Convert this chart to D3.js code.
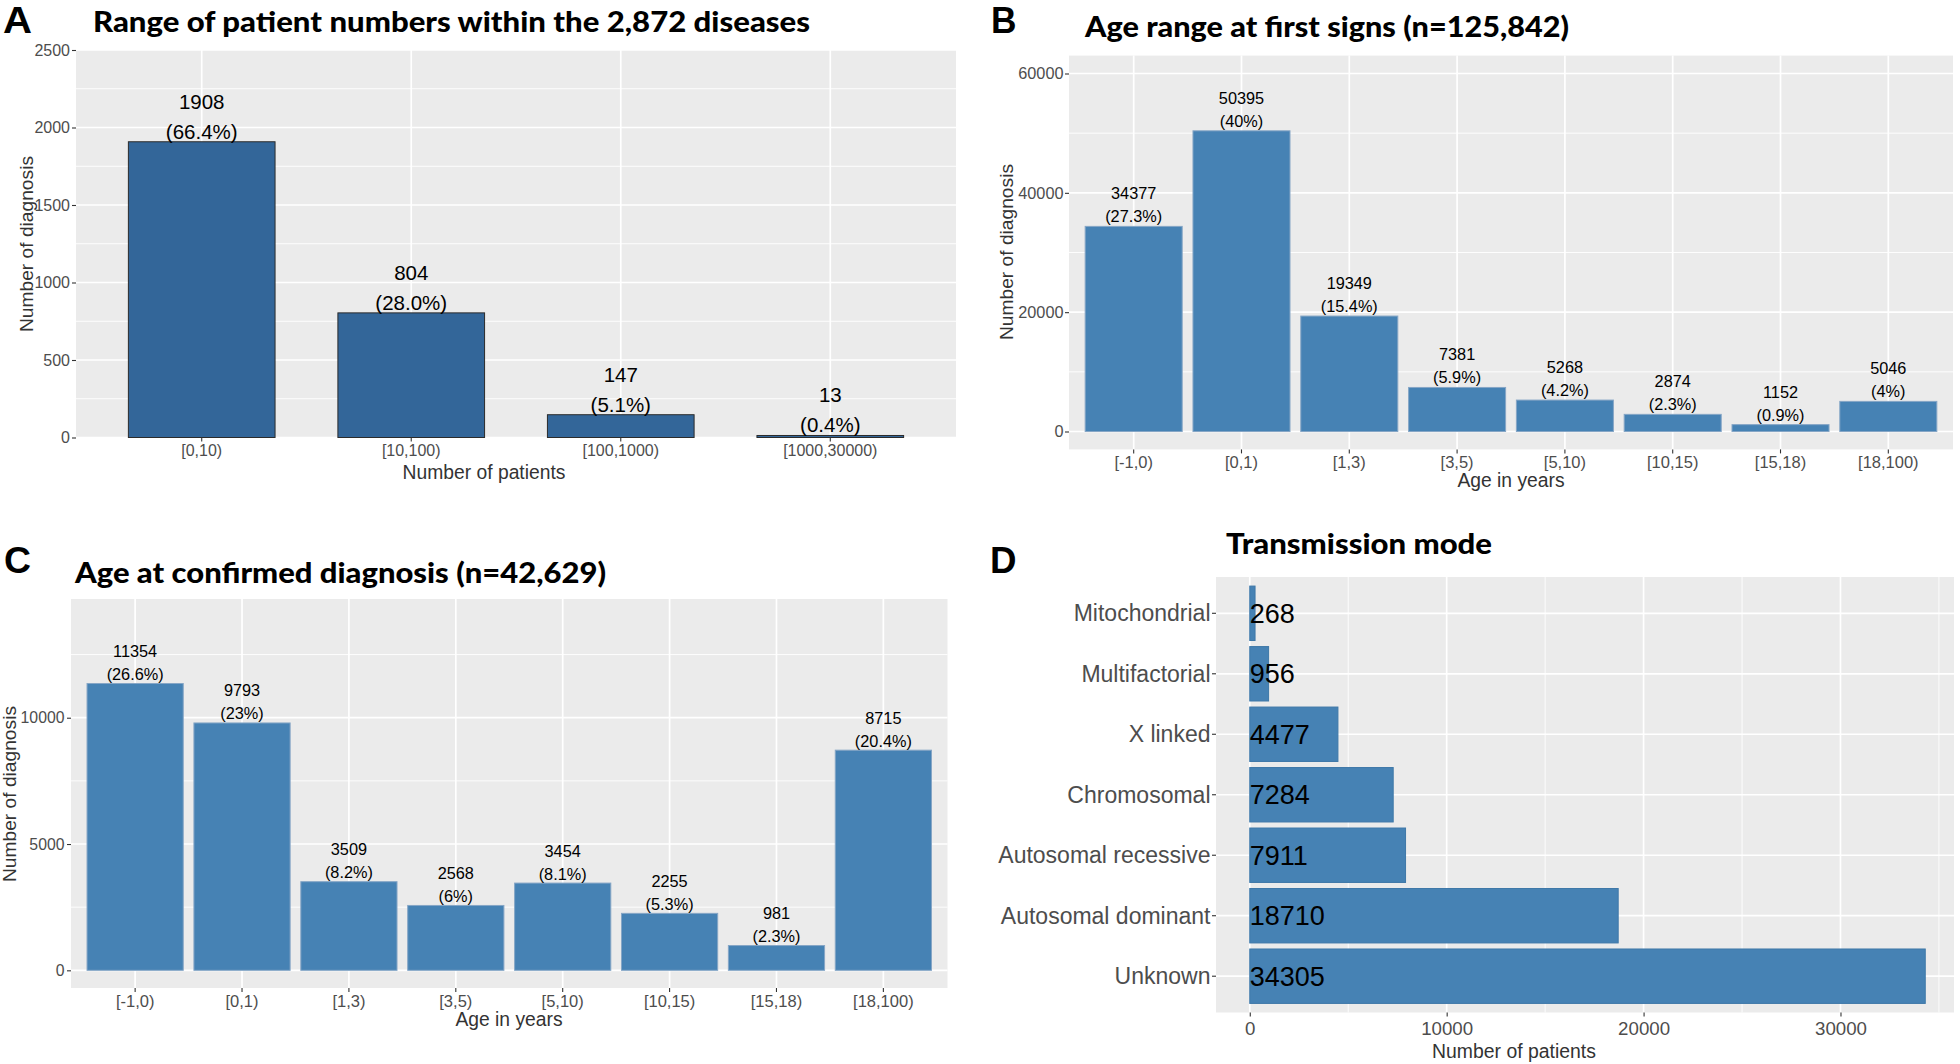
<!DOCTYPE html>
<html>
<head>
<meta charset="utf-8">
<script src="https://cdn.jsdelivr.net/npm/d3@7"></script>
<style>
  html, body { margin: 0; padding: 0; background: #ffffff; }
  svg { display: block; }
</style>
</head>
<body>
<script>
// ---------------- DATA ----------------
const panelA_categories = ["[0,10)", "[10,100)", "[100,1000)", "[1000,30000)"];
const panelA_values = [1908, 804, 147, 13];
const panelA_percents = ["66.4%", "28.0%", "5.1%", "0.4%"];
const panelA_yTicks = [0, 500, 1000, 1500, 2000, 2500];
const panelA_yMinor = [250, 750, 1250, 1750, 2250];

const ageCategories = ["[-1,0)", "[0,1)", "[1,3)", "[3,5)", "[5,10)", "[10,15)", "[15,18)", "[18,100)"];
const panelB_values = [34377, 50395, 19349, 7381, 5268, 2874, 1152, 5046];
const panelB_percents = ["27.3%", "40%", "15.4%", "5.9%", "4.2%", "2.3%", "0.9%", "4%"];
const panelB_yTicks = [0, 20000, 40000, 60000];
const panelB_yMinor = [10000, 30000, 50000];

const panelC_values = [11354, 9793, 3509, 2568, 3454, 2255, 981, 8715];
const panelC_percents = ["26.6%", "23%", "8.2%", "6%", "8.1%", "5.3%", "2.3%", "20.4%"];
const panelC_yTicks = [0, 5000, 10000];
const panelC_yMinor = [2500, 7500, 12500];

const panelD_categories = ["Mitochondrial", "Multifactorial", "X linked", "Chromosomal",
  "Autosomal recessive", "Autosomal dominant", "Unknown"];
const panelD_values = [268, 956, 4477, 7284, 7911, 18710, 34305];
const panelD_xTicks = [0, 10000, 20000, 30000];
const panelD_xMinor = [5000, 15000, 25000, 35000];

// ---------------- SETUP ----------------
const W = 1960, H = 1064;
const FONT = "'Liberation Sans', Arial, Helvetica, sans-serif";
const TITLE_FONT = "Lato, 'Open Sans', 'Liberation Sans', sans-serif";
const svg = d3.select("body").append("svg").attr("width", W).attr("height", H)
  .style("background", "#ffffff");

function styleAxis(ax, fontSize) {
  ax.attr("font-size", null).attr("font-family", null);
  ax.select(".domain").remove();
  ax.selectAll(".tick line").attr("stroke", "#333333").attr("stroke-width", 1.1);
  ax.selectAll(".tick text").attr("fill", "#4D4D4D")
    .style("font-family", FONT).style("font-size", fontSize + "px");
}

function panelLetter(txt, x, y, w) {
  svg.append("text").attr("x", x).attr("y", y).text(txt)
    .style("font-family", FONT).style("font-weight", "bold").style("font-size", "36px")
    .attr("fill", "#000").attr("textLength", w).attr("lengthAdjust", "spacingAndGlyphs");
}
function panelTitle(txt, x, y, w) {
  svg.append("text").attr("x", x).attr("y", y).text(txt)
    .style("font-family", TITLE_FONT).style("font-weight", "900").style("font-size", "28px")
    .attr("fill", "#000").attr("textLength", w).attr("lengthAdjust", "spacingAndGlyphs");
}

function drawVertical(o) {
  const g = svg.append("g");
  const x = d3.scaleBand().domain(o.categories).range([o.x0, o.x1])
    .paddingInner(o.pi).paddingOuter(o.po);
  const y = d3.scaleLinear().domain(o.yDomain).range([o.yBottom, o.yTop]);

  g.append("rect").attr("x", o.x0).attr("y", o.yTop)
    .attr("width", o.x1 - o.x0).attr("height", o.yBottom - o.yTop).attr("fill", "#EBEBEB");

  g.selectAll("line.minor").data(o.minor).join("line").attr("class", "minor")
    .attr("x1", o.x0).attr("x2", o.x1).attr("y1", d => y(d)).attr("y2", d => y(d))
    .attr("stroke", "#ffffff").attr("stroke-width", 0.9);
  g.selectAll("line.majorH").data(o.major).join("line").attr("class", "majorH")
    .attr("x1", o.x0).attr("x2", o.x1).attr("y1", d => y(d)).attr("y2", d => y(d))
    .attr("stroke", "#ffffff").attr("stroke-width", 1.7);
  g.selectAll("line.majorV").data(o.categories).join("line").attr("class", "majorV")
    .attr("x1", d => x(d) + x.bandwidth() / 2).attr("x2", d => x(d) + x.bandwidth() / 2)
    .attr("y1", o.yTop).attr("y2", o.yBottom)
    .attr("stroke", "#ffffff").attr("stroke-width", 1.7);

  g.selectAll("rect.bar").data(o.values).join("rect").attr("class", "bar")
    .attr("x", (d, i) => x(o.categories[i])).attr("y", d => y(d))
    .attr("width", x.bandwidth()).attr("height", d => y(0) - y(d))
    .attr("fill", o.fill).attr("stroke", o.stroke).attr("stroke-width", o.strokeWidth);

  const lbl = g.selectAll("text.lbl").data(o.values).join("text").attr("class", "lbl")
    .attr("text-anchor", "middle").attr("fill", "#000")
    .style("font-family", FONT).style("font-size", o.labelSize + "px");
  lbl.append("tspan").attr("x", (d, i) => x(o.categories[i]) + x.bandwidth() / 2)
    .attr("y", d => y(d) - o.labelOff - o.labelGap).text(d => d);
  lbl.append("tspan").attr("x", (d, i) => x(o.categories[i]) + x.bandwidth() / 2)
    .attr("y", d => y(d) - o.labelOff).text((d, i) => "(" + o.percents[i] + ")");

  const ya = g.append("g").attr("transform", `translate(${o.x0},0)`)
    .call(d3.axisLeft(y).tickValues(o.major).tickSize(4).tickPadding(o.yPad).tickFormat(d3.format("d")));
  styleAxis(ya, o.yTickSize);

  const xa = g.append("g").attr("transform", `translate(0,${o.yBottom})`)
    .call(d3.axisBottom(x).tickSize(4));
  styleAxis(xa, o.xTickSize);
  xa.selectAll(".tick text").attr("y", o.xTickBase - o.yBottom).attr("dy", 0);

  g.append("text").attr("x", o.xTitleX).attr("y", o.xTitleY).attr("text-anchor", "middle")
    .text(o.xTitle).attr("fill", "#333333")
    .style("font-family", FONT).style("font-size", "19.3px");
  g.append("text").attr("transform", `translate(${o.yTitleX},${o.yTitleY}) rotate(-90)`)
    .attr("text-anchor", "middle").text("Number of diagnosis").attr("fill", "#333333")
    .style("font-family", FONT).style("font-size", "19.2px");
}

// ---------------- PANEL A ----------------
panelLetter("A", 3, 33, 29);
panelTitle("Range of patient numbers within the 2,872 diseases", 93, 31.5, 717);
drawVertical({
  categories: panelA_categories, values: panelA_values, percents: panelA_percents,
  x0: 76, x1: 956, yTop: 50, yBottom: 437.5, yDomain: [0, 2500],
  major: panelA_yTicks, minor: panelA_yMinor, pi: 0.3, po: 0.25,
  fill: "#336699", stroke: "#2b2b2b", strokeWidth: 1,
  labelSize: 20.5, labelGap: 30, labelOff: 3,
  yTickSize: 16, yPad: 2, xTickSize: 16, xTickBase: 456,
  xTitle: "Number of patients", xTitleX: 484, xTitleY: 479,
  yTitleX: 33, yTitleY: 244
});

// ---------------- PANEL B ----------------
panelLetter("B", 991, 33, 25.5);
panelTitle("Age range at first signs (n=125,842)", 1085, 36.5, 484);
drawVertical({
  categories: ageCategories, values: panelB_values, percents: panelB_percents,
  x0: 1069, x1: 1953, yTop: 55.6, yBottom: 449.4, yDomain: [-3000, 63000],
  major: panelB_yTicks, minor: panelB_yMinor, pi: 0.1, po: 0.15,
  fill: "#4682B4", stroke: "#86a6c6", strokeWidth: 1,
  labelSize: 16.3, labelGap: 23, labelOff: 4,
  yTickSize: 16.3, yPad: 1.5, xTickSize: 16.5, xTickBase: 468,
  xTitle: "Age in years", xTitleX: 1511, xTitleY: 487,
  yTitleX: 1013, yTitleY: 252
});

// ---------------- PANEL C ----------------
panelLetter("C", 4, 573, 27);
panelTitle("Age at confirmed diagnosis (n=42,629)", 75, 582.5, 531);
drawVertical({
  categories: ageCategories, values: panelC_values, percents: panelC_percents,
  x0: 71, x1: 947.5, yTop: 599, yBottom: 988, yDomain: [-700, 14700],
  major: panelC_yTicks, minor: panelC_yMinor, pi: 0.1, po: 0.15,
  fill: "#4682B4", stroke: "#86a6c6", strokeWidth: 1,
  labelSize: 16.3, labelGap: 23, labelOff: 3.5,
  yTickSize: 15.8, yPad: 2.5, xTickSize: 16.5, xTickBase: 1007,
  xTitle: "Age in years", xTitleX: 509, xTitleY: 1026,
  yTitleX: 16, yTitleY: 794
});

// ---------------- PANEL D ----------------
panelLetter("D", 990, 573, 26.5);
panelTitle("Transmission mode", 1226, 553.5, 266);
(function () {
  const g = svg.append("g");
  const x0 = 1216, x1 = 1954, yTop = 577, yBottom = 1012.5;
  const x = d3.scaleLinear().domain([-1715, 35765]).range([x0, x1]);
  const y = d3.scaleBand().domain(panelD_categories).range([yTop, yBottom])
    .paddingInner(0.1).paddingOuter(0.15);

  g.append("rect").attr("x", x0).attr("y", yTop).attr("width", x1 - x0)
    .attr("height", yBottom - yTop).attr("fill", "#EBEBEB");
  g.selectAll("line.minor").data(panelD_xMinor).join("line").attr("class", "minor")
    .attr("x1", d => x(d)).attr("x2", d => x(d)).attr("y1", yTop).attr("y2", yBottom)
    .attr("stroke", "#ffffff").attr("stroke-width", 0.9);
  g.selectAll("line.majorV").data(panelD_xTicks).join("line").attr("class", "majorV")
    .attr("x1", d => x(d)).attr("x2", d => x(d)).attr("y1", yTop).attr("y2", yBottom)
    .attr("stroke", "#ffffff").attr("stroke-width", 1.7);
  g.selectAll("line.majorH").data(panelD_categories).join("line").attr("class", "majorH")
    .attr("x1", x0).attr("x2", x1)
    .attr("y1", d => y(d) + y.bandwidth() / 2).attr("y2", d => y(d) + y.bandwidth() / 2)
    .attr("stroke", "#ffffff").attr("stroke-width", 1.7);

  g.selectAll("rect.bar").data(panelD_values).join("rect").attr("class", "bar")
    .attr("x", x(0)).attr("y", (d, i) => y(panelD_categories[i]))
    .attr("width", d => x(d) - x(0)).attr("height", y.bandwidth())
    .attr("fill", "#4682B4").attr("stroke", "#3f78a8").attr("stroke-width", 1);

  g.selectAll("text.lbl").data(panelD_values).join("text").attr("class", "lbl")
    .attr("x", x(0)).attr("y", (d, i) => y(panelD_categories[i]) + y.bandwidth() / 2 + 9.6)
    .text(d => d).attr("fill", "#000")
    .style("font-family", FONT).style("font-size", "27px");

  const ya = g.append("g").attr("transform", `translate(${x0},0)`)
    .call(d3.axisLeft(y).tickSize(4).tickPadding(1.5));
  styleAxis(ya, 23);
  ya.selectAll(".tick text").attr("dy", "0.35em");

  const xa = g.append("g").attr("transform", `translate(0,${yBottom})`)
    .call(d3.axisBottom(x).tickValues(panelD_xTicks).tickSize(4).tickFormat(d3.format("d")));
  styleAxis(xa, 18.7);
  xa.selectAll(".tick text").attr("y", 1034.5 - yBottom).attr("dy", 0);

  g.append("text").attr("x", 1514).attr("y", 1058).attr("text-anchor", "middle")
    .text("Number of patients").attr("fill", "#333333")
    .style("font-family", FONT).style("font-size", "19.4px");
})();
</script>
</body>
</html>
